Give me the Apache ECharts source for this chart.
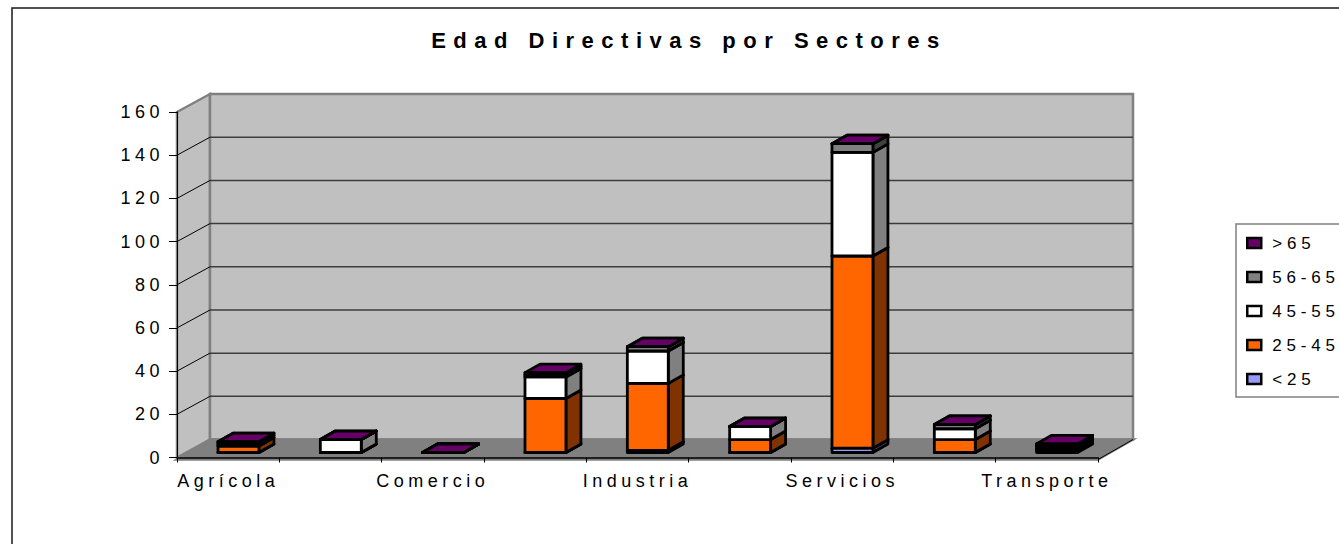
<!DOCTYPE html>
<html>
<head>
<meta charset="utf-8">
<style>
html,body{margin:0;padding:0;background:#fff;overflow:hidden}
#c{width:1339px;height:544px}
#c text{letter-spacing:4.5px}
#c text[style*="bold"]{letter-spacing:7.5px}
#c text[style*="17px"]{letter-spacing:4.8px}
</style>
<script src="https://cdn.jsdelivr.net/npm/echarts@6/dist/echarts.min.js"></script>
</head>
<body>
<div id="c"></div>
<script>
const titleText = "Edad Directivas por Sectores";
const categories = ["Agrícola","","Comercio","","Industria","","Servicios","","Transporte"];
const seriesNames = ["<25","25-45","45-55","56-65",">65"];
const under25 = [0,0,0,0,1,0,2,0,1];
const from25to45 = [3,0,0,25,31,6,89,6,1];
const from45to55 = [1,6,0,10,15,6,48,5,1];
const from56to65 = [1,0,0,1,2,0,4,2,1];
const over65 = [0,0,0,1,0,0,0,0,0];
const stacks = [under25,from25to45,from45to55,from56to65,over65];
const faceColors = ["#9999FF","#FF6600","#FFFFFF","#808080","#660066"];
const sideColors = ["#4D4D80","#803300","#808080","#404040","#330033"];
const yTicks = [20,40,60,80,100,120,140,160];

// 3D look (pixels)
const wallDX = 33, wallDY = 18, wallExtra = 2, barOffX = 10.3, barOffY = 5, barDX = 15, barDY = 8.5, barRatio = 0.4, floorDrop = 2;

function renderWalls(params, api) {
  const g = params.coordSys, l = g.x, r = g.x + g.width, t = g.y, b = g.y + g.height;
  const rb = r + wallDX + wallExtra;
  const line = (x1,y1,x2,y2,stroke,w) => ({type:'line',shape:{x1,y1,x2,y2},style:{stroke,lineWidth:w}});
  const poly = (points,fill) => ({type:'polygon',shape:{points},style:{fill,stroke:'#808080',lineWidth:2.5}});
  const children = [
    poly([[l,t],[l+wallDX,t-wallDY],[l+wallDX,b-wallDY],[l,b]],'#C0C0C0'),
    poly([[l+wallDX,t-wallDY],[rb,t-wallDY],[rb,b-wallDY],[l+wallDX,b-wallDY]],'#C0C0C0'),
    poly([[l,b+floorDrop],[l+wallDX,b-wallDY],[rb,b-wallDY],[r,b+floorDrop]],'#808080')
  ];
  yTicks.forEach(v => {
    const y = api.coord([0,v])[1];
    if (v < 160) {
      children.push(line(l+wallDX,y-wallDY,rb,y-wallDY,'#3C3C3C',1.5));
      children.push(line(l,y,l+wallDX,y-wallDY,'#000',1));
    }
  });
  children.push(line(r,b+floorDrop,rb,b-wallDY,'#000',1));
  return {type:'group',children};
}

function makeRender(s) {
  return function(params, api) {
    const i = api.value(0);
    let base = 0;
    for (let k = 0; k < s; k++) base += stacks[k][i];
    const top = base + stacks[s][i];
    const c0 = api.coord([i,base]), c1 = api.coord([i,top]);
    const w = api.size([1,0])[0] * barRatio;
    const x0 = c0[0] + barOffX - w/2, x1 = x0 + w;
    const yb = c0[1] - barOffY, yt = c1[1] - barOffY;
    const st = {stroke:'#000',lineWidth:2.8,lineJoin:'round'};
    return {type:'group',children:[
      {type:'polygon',shape:{points:[[x1,yb],[x1+barDX,yb-barDY],[x1+barDX,yt-barDY],[x1,yt]]},style:{fill:sideColors[s],...st}},
      {type:'polygon',shape:{points:[[x0,yt],[x0+barDX,yt-barDY],[x1+barDX,yt-barDY],[x1,yt]]},style:{fill:'#660066',...st}},
      {type:'rect',shape:{x:x0,y:yt,width:w,height:yb-yt},style:{fill:faceColors[s],...st}}
    ]};
  };
}

const font = 'Liberation Sans';
const chart = echarts.init(document.getElementById('c'),null,{renderer:'svg',width:1339,height:544});
chart.setOption({
  animation:false,
  backgroundColor:'#fff',
  graphic:[{type:'rect',z:0,silent:true,shape:{x:12,y:8,width:1500,height:700},style:{fill:'none',stroke:'#1a1a1a',lineWidth:1.5}}],
  title:{text:titleText,left:684,top:24,textAlign:'center',textStyle:{fontFamily:font,fontSize:22,fontWeight:'bold',color:'#000'}},
  legend:{
    orient:'vertical',left:1236,top:224,padding:[9,90,8,10],itemGap:14,itemWidth:14,itemHeight:10,
    borderColor:'#808080',borderWidth:1.5,selectedMode:false,
    textStyle:{fontFamily:font,fontSize:17,color:'#000',padding:[0,0,0,6],lineHeight:20},
    data:seriesNames.slice().reverse().map(n=>({name:n,icon:'rect',itemStyle:{color:faceColors[seriesNames.indexOf(n)],borderColor:'#000',borderWidth:2.5}}))
  },
  grid:{left:177,top:112,width:921,height:345.5},
  xAxis:{type:'category',data:categories,offset:floorDrop,z:5,
    axisLine:{lineStyle:{color:'#000',width:1.5}},
    axisTick:{show:true,length:5,alignWithLabel:false,interval:0,lineStyle:{color:'#000'}},
    axisLabel:{interval:0,margin:12,fontFamily:font,fontSize:18,color:'#000'}},
  yAxis:{type:'value',min:0,max:160,interval:20,z:5,
    axisLine:{show:true,lineStyle:{color:'#000',width:1}},
    axisTick:{show:true,length:8,lineStyle:{color:'#000'}},
    splitLine:{show:false},
    axisLabel:{margin:13,fontFamily:font,fontSize:18,color:'#000'}},
  series:[
    {type:'custom',name:'walls',data:[0],z:1,silent:true,clip:false,renderItem:renderWalls,encode:{x:0}},
    ...seriesNames.map((n,s)=>({type:'custom',name:n,z:2,clip:false,data:categories.map((c,i)=>[i,stacks[s][i]]),encode:{x:0,y:1},renderItem:makeRender(s),itemStyle:{color:faceColors[s]}}))
  ]
});
</script>
</body>
</html>
